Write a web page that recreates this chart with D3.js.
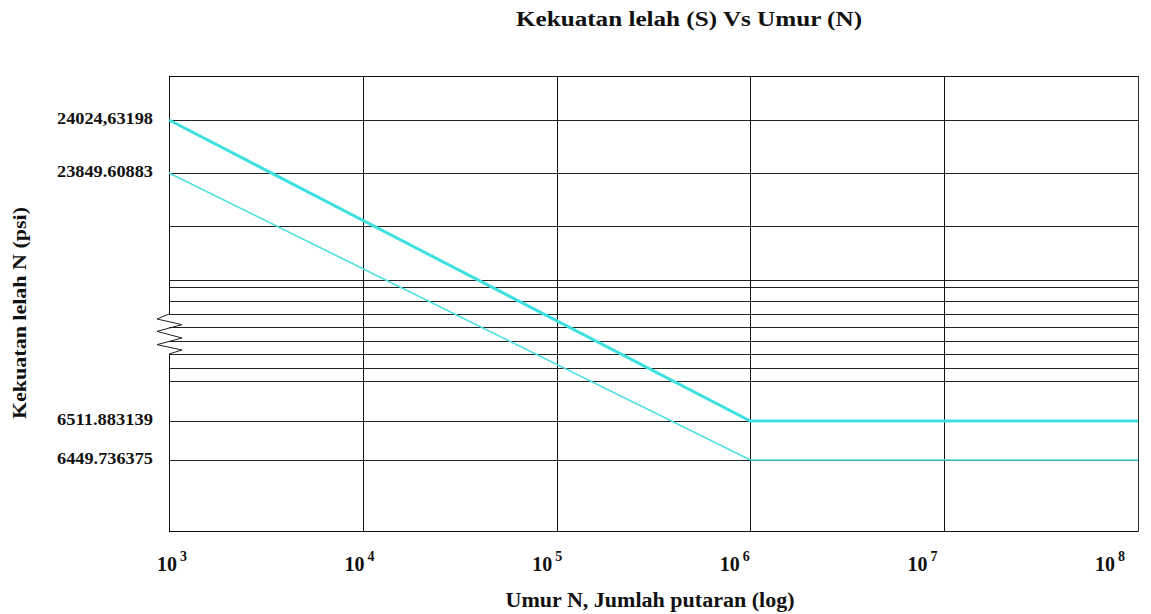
<!DOCTYPE html>
<html>
<head>
<meta charset="utf-8">
<script src="https://cdn.jsdelivr.net/npm/d3@7"></script>
<style>
  html, body { margin: 0; padding: 0; background: #fff; }
  svg { display: block; }
  svg text { font-family: "Liberation Serif", "Times New Roman", serif; font-weight: bold; }
</style>
</head>
<body>
<svg id="chart" width="1151" height="614"></svg>
<script>
// ---- data ----
const xTicks = [1e3, 1e4, 1e5, 1e6, 1e7, 1e8];
const xExponents = ["3", "4", "5", "6", "7", "8"];
const yTickValues = [24024.63198, 23849.60883, 6511.883139, 6449.736375];
const yTickLabels = ["24024,63198", "23849.60883", "6511.883139", "6449.736375"];
const yGridValues = [23675, 23500, 22380, 20030, 17800, 15670, 13330, 11050, 8800, 6575];
const cycles = [1e3, 1e6, 1e8];
const strengthUpper = [24024.63198, 6511.883139, 6511.883139];
const strengthLower = [23849.60883, 6449.736375, 6449.736375];
const titleText = "Kekuatan lelah (S) Vs Umur (N)";
const xTitleText = "Umur N, Jumlah putaran (log)";
const yTitleText = "Kekuatan lelah N (psi)";

(function () {
// ---- layout ----
const svg = d3.select("#chart");
const pL = 169, pR = 1138, pT = 76, pB = 531;

const x = d3.scaleLog().domain([1e3, 1e8]).range([pL, pR]);
// broken (piecewise) axis
const y = d3.scaleLinear()
  .domain([6336.6, 6449.736375, 6511.883139, 6575, 23500, 23849.60883, 24024.63198, 24170])
  .range([pB, 460, 421, 381, 280, 173, 120, pT]);

const g = svg.append("g");

// horizontal grid lines
const allH = yTickValues.concat(yGridValues);
g.selectAll("line.hgrid").data(allH).enter().append("line")
  .attr("class", "hgrid")
  .attr("x1", pL).attr("x2", pR)
  .attr("y1", d => Math.round(y(d)) + 0.5).attr("y2", d => Math.round(y(d)) + 0.5)
  .attr("stroke", "#222").attr("stroke-width", 1);

// vertical grid lines
g.selectAll("line.vgrid").data(xTicks.slice(1, -1)).enter().append("line")
  .attr("x1", d => Math.round(x(d)) + 0.5).attr("x2", d => Math.round(x(d)) + 0.5)
  .attr("y1", pT).attr("y2", pB)
  .attr("stroke", "#111").attr("stroke-width", 1);

// frame: top, bottom, right
g.append("line").attr("x1", pL).attr("x2", pR + 0.5).attr("y1", pT + 0.5).attr("y2", pT + 0.5).attr("stroke", "#111");
g.append("line").attr("x1", pL).attr("x2", pR + 0.5).attr("y1", pB + 0.5).attr("y2", pB + 0.5).attr("stroke", "#111");
g.append("line").attr("x1", pR + 0.5).attr("x2", pR + 0.5).attr("y1", pT).attr("y2", pB + 0.5).attr("stroke", "#333");

// left axis with break
const breakTop = Math.round(y(17800));
const breakBot = Math.round(y(11050));
g.append("line").attr("x1", pL + 0.5).attr("x2", pL + 0.5).attr("y1", pT).attr("y2", breakTop).attr("stroke", "#111");
g.append("line").attr("x1", pL + 0.5).attr("x2", pL + 0.5).attr("y1", breakBot).attr("y2", pB + 0.5).attr("stroke", "#111");
const zz = [];
const nz = 6, zh = (breakBot - breakTop);
zz.push([pL, breakTop]);
for (let i = 1; i < nz; i++) {
  zz.push([i % 2 === 1 ? pL - 12 : pL + 13, breakTop + zh * (i - 0.4) / nz + (i === 1 ? 1 : 0)]);
}
zz.push([pL + 13, breakBot - 4]);
zz.push([pL, breakBot]);
g.append("path").attr("d", d3.line()(zz)).attr("fill", "none").attr("stroke", "#222").attr("stroke-width", 1);

// data lines
const line = d3.line().x((d, i) => x(cycles[i])).y(d => y(d));
g.append("path").datum(strengthLower).attr("d", line)
  .attr("fill", "none").attr("stroke", "#4ee0e0").attr("stroke-width", 1.6);
g.append("path").datum(strengthUpper).attr("d", line)
  .attr("fill", "none").attr("stroke", "#3ee0e0").attr("stroke-width", 3);

// y tick labels
g.selectAll("text.ylab").data(yTickValues).enter().append("text")
  .attr("x", 153).attr("y", d => y(d) + 4)
  .attr("text-anchor", "end")
  .attr("font-size", 17)
  .attr("fill", "#111")
  .attr("textLength", 96).attr("lengthAdjust", "spacingAndGlyphs")
  .text((d, i) => yTickLabels[i]);

// x tick labels: 10^n
const xl = g.selectAll("text.xlab").data(xTicks).enter().append("text")
  .attr("x", (d, i) => x(d) - 12 - 6.2 * i)
  .attr("y", 571)
  .attr("font-size", 20)
  .attr("fill", "#111");
xl.append("tspan").text("10");
xl.append("tspan").attr("dy", -10).attr("dx", 3).attr("font-size", 14).text((d, i) => xExponents[i]);

// titles
svg.append("text").attr("x", 689).attr("y", 26).attr("text-anchor", "middle")
  .attr("font-size", 20).attr("fill", "#111")
  .attr("textLength", 346).attr("lengthAdjust", "spacingAndGlyphs").text(titleText);
svg.append("text").attr("x", 650).attr("y", 607).attr("text-anchor", "middle")
  .attr("font-size", 20).attr("fill", "#111")
  .attr("textLength", 289).attr("lengthAdjust", "spacingAndGlyphs").text(xTitleText);
svg.append("text").attr("transform", "translate(26,313) rotate(-90)").attr("text-anchor", "middle")
  .attr("font-size", 19).attr("fill", "#111")
  .attr("textLength", 212).attr("lengthAdjust", "spacingAndGlyphs").text(yTitleText);
})();
</script>
</body>
</html>
